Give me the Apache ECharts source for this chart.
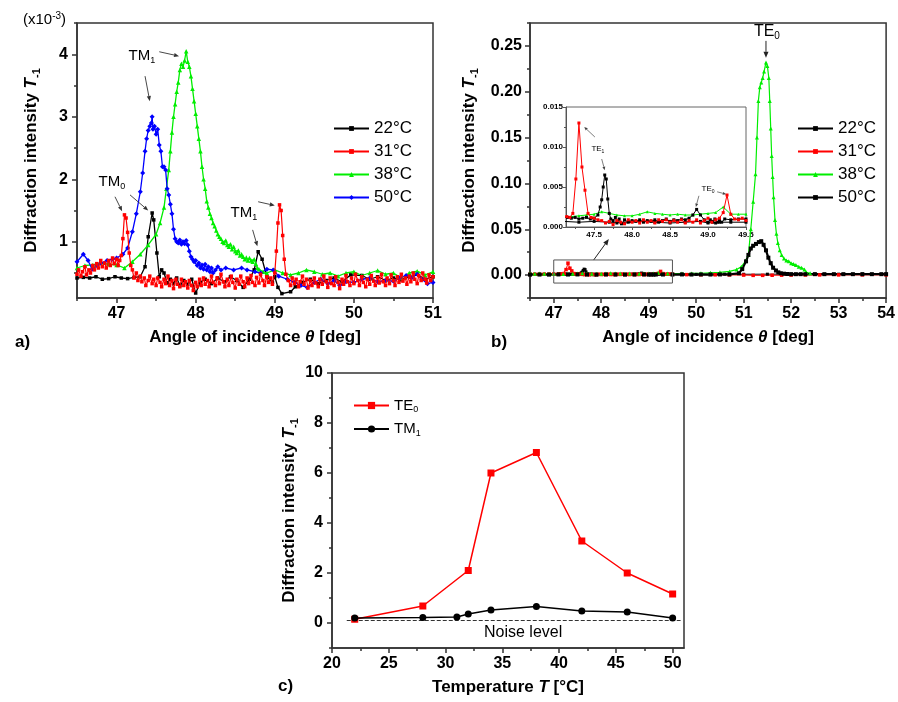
<!DOCTYPE html>
<html><head><meta charset="utf-8">
<script src="https://cdn.jsdelivr.net/npm/echarts@6/dist/echarts.min.js"></script>
<style>html,body{margin:0;padding:0;background:#fff}#c{width:898px;height:702px}</style>
</head><body><div id="c"></div>
<script>
const FF = '"Liberation Sans", Arial, Helvetica, sans-serif';

/* ---------- Panel a data (x: angle [deg], y: intensity x1e-3) ---------- */
const aNames = ['22°C','31°C','38°C','50°C'];
const a22 = [[46.5,0.42],[46.58,0.43],[46.66,0.42],[46.74,0.44],[46.82,0.40],[46.9,0.41],[46.98,0.44],[47.06,0.42],[47.14,0.41],[47.22,0.43],[47.3,0.44],[47.36,0.60],[47.4,1.08],[47.45,1.46],[47.47,1.35],[47.51,0.82],[47.54,0.44],[47.57,0.55],[47.6,0.50],[47.64,0.34],[47.68,0.40],[47.72,0.33],[47.76,0.42],[47.8,0.30],[47.85,0.38],[47.9,0.32],[47.95,0.40],[48.0,0.18],[48.06,0.35],[48.12,0.40],[48.2,0.33],[48.28,0.42],[48.36,0.36],[48.44,0.44],[48.52,0.38],[48.6,0.27],[48.68,0.40],[48.74,0.55],[48.79,0.84],[48.84,0.72],[48.9,0.44],[48.97,0.35],[49.0,0.44],[49.04,0.27],[49.09,0.17],[49.2,0.20],[49.26,0.28],[49.35,0.35],[49.45,0.40],[49.55,0.33],[49.65,0.38],[49.75,0.42],[49.85,0.36],[49.96,0.47],[50.1,0.46],[50.2,0.40],[50.3,0.44],[50.4,0.38],[50.5,0.42],[50.59,0.39],[50.7,0.44],[50.8,0.48],[50.9,0.40],[51.0,0.44]];
const a31 = [[46.5,0.48],[46.52,0.55],[46.55,0.45],[46.57,0.52],[46.6,0.6],[46.62,0.47],[46.65,0.55],[46.67,0.5],[46.7,0.62],[46.72,0.55],[46.75,0.65],[46.77,0.58],[46.8,0.7],[46.82,0.6],[46.85,0.66],[46.87,0.58],[46.9,0.7],[46.92,0.62],[46.95,0.74],[46.97,0.65],[47.0,0.72],[47.02,0.62],[47.04,0.7],[47.06,0.78],[47.08,1.05],[47.1,1.43],[47.12,1.38],[47.14,1.15],[47.16,0.82],[47.18,0.62],[47.2,0.55],[47.22,0.42],[47.25,0.5],[47.27,0.38],[47.3,0.45],[47.32,0.36],[47.35,0.42],[47.37,0.3],[47.4,0.38],[47.42,0.45],[47.45,0.33],[47.47,0.4],[47.5,0.3],[47.52,0.42],[47.55,0.35],[47.57,0.28],[47.6,0.4],[47.62,0.33],[47.65,0.45],[47.67,0.3],[47.7,0.38],[47.72,0.25],[47.75,0.4],[47.77,0.32],[47.8,0.28],[47.82,0.4],[47.85,0.3],[47.87,0.36],[47.9,0.26],[47.92,0.38],[47.95,0.3],[47.97,0.22],[48.0,0.35],[48.02,0.28],[48.05,0.4],[48.07,0.3],[48.1,0.42],[48.12,0.32],[48.15,0.38],[48.17,0.28],[48.2,0.45],[48.22,0.35],[48.25,0.3],[48.27,0.42],[48.3,0.33],[48.32,0.48],[48.35,0.36],[48.37,0.28],[48.4,0.4],[48.42,0.3],[48.45,0.45],[48.47,0.35],[48.5,0.26],[48.52,0.4],[48.55,0.32],[48.57,0.45],[48.6,0.36],[48.62,0.28],[48.65,0.42],[48.67,0.33],[48.7,0.46],[48.72,0.35],[48.75,0.3],[48.77,0.43],[48.8,0.34],[48.82,0.48],[48.85,0.38],[48.87,0.3],[48.9,0.44],[48.92,0.35],[48.95,0.42],[48.97,0.32],[49.0,0.5],[49.02,0.85],[49.04,1.3],[49.06,1.59],[49.08,1.5],[49.1,1.1],[49.12,0.72],[49.14,0.48],[49.17,0.38],[49.2,0.3],[49.22,0.42],[49.25,0.33],[49.27,0.4],[49.3,0.28],[49.32,0.36],[49.35,0.45],[49.37,0.32],[49.4,0.4],[49.42,0.26],[49.45,0.38],[49.47,0.3],[49.5,0.42],[49.52,0.34],[49.55,0.28],[49.57,0.4],[49.6,0.32],[49.62,0.45],[49.65,0.36],[49.67,0.27],[49.7,0.42],[49.72,0.33],[49.75,0.3],[49.77,0.44],[49.8,0.35],[49.82,0.25],[49.85,0.4],[49.87,0.32],[49.9,0.46],[49.92,0.36],[49.95,0.3],[49.97,0.42],[50.0,0.33],[50.02,0.48],[50.05,0.38],[50.07,0.3],[50.1,0.44],[50.12,0.35],[50.15,0.28],[50.17,0.4],[50.2,0.32],[50.22,0.46],[50.25,0.37],[50.27,0.3],[50.3,0.43],[50.32,0.34],[50.35,0.48],[50.37,0.36],[50.4,0.3],[50.42,0.42],[50.45,0.33],[50.47,0.47],[50.5,0.38],[50.52,0.3],[50.55,0.44],[50.57,0.35],[50.6,0.48],[50.62,0.37],[50.65,0.42],[50.67,0.32],[50.7,0.45],[50.72,0.36],[50.75,0.5],[50.77,0.4],[50.8,0.33],[50.82,0.46],[50.85,0.38],[50.87,0.5],[50.9,0.4],[50.92,0.34],[50.95,0.47],[50.97,0.38],[51.0,0.44]];
const a38 = [[46.5,0.58],[46.6,0.62],[46.7,0.63],[46.8,0.66],[46.9,0.64],[47.0,0.63],[47.1,0.58],[47.2,0.68],[47.3,0.8],[47.4,0.95],[47.5,1.12],[47.55,1.3],[47.6,1.55],[47.63,1.85],[47.66,2.15],[47.68,2.45],[47.7,2.75],[47.72,3.0],[47.74,3.2],[47.76,3.4],[47.78,3.55],[47.8,3.75],[47.82,3.85],[47.84,3.8],[47.86,3.9],[47.88,4.05],[47.9,3.88],[47.92,3.8],[47.94,3.65],[47.96,3.45],[47.98,3.25],[48.0,3.05],[48.02,2.85],[48.04,2.65],[48.06,2.45],[48.08,2.2],[48.1,2.0],[48.12,1.85],[48.14,1.65],[48.16,1.55],[48.18,1.45],[48.2,1.38],[48.22,1.3],[48.24,1.25],[48.26,1.18],[48.28,1.12],[48.3,1.08],[48.32,1.05],[48.34,1.0],[48.36,0.98],[48.38,1.02],[48.4,0.95],[48.42,0.92],[48.44,0.96],[48.46,0.88],[48.48,0.92],[48.5,0.85],[48.52,0.82],[48.54,0.86],[48.56,0.78],[48.58,0.8],[48.6,0.76],[48.62,0.72],[48.64,0.75],[48.66,0.7],[48.68,0.74],[48.7,0.7],[48.72,0.68],[48.74,0.72],[48.76,0.65],[48.78,0.58],[48.8,0.56],[48.85,0.52],[48.9,0.5],[49.0,0.55],[49.1,0.5],[49.2,0.47],[49.3,0.5],[49.4,0.55],[49.5,0.52],[49.6,0.48],[49.7,0.5],[49.8,0.45],[49.9,0.5],[50.0,0.52],[50.1,0.46],[50.2,0.5],[50.3,0.54],[50.4,0.48],[50.5,0.5],[50.6,0.42],[50.7,0.5],[50.8,0.53],[50.9,0.47],[51.0,0.52]];
const a50 = [[46.5,0.68],[46.58,0.8],[46.64,0.7],[46.69,0.56],[46.75,0.62],[46.8,0.66],[46.88,0.7],[46.95,0.72],[47.0,0.74],[47.08,0.8],[47.14,0.9],[47.2,1.16],[47.25,1.45],[47.3,1.8],[47.33,2.1],[47.36,2.45],[47.38,2.65],[47.4,2.78],[47.42,2.85],[47.44,2.9],[47.45,3.0],[47.46,2.8],[47.48,2.85],[47.5,2.72],[47.52,2.8],[47.54,2.55],[47.56,2.45],[47.58,2.2],[47.6,2.2],[47.62,2.15],[47.64,1.85],[47.66,1.75],[47.68,1.6],[47.7,1.45],[47.72,1.2],[47.74,1.05],[47.76,1.0],[47.78,0.98],[47.8,1.03],[47.82,0.96],[47.84,1.0],[47.86,0.97],[47.88,1.02],[47.9,0.95],[47.92,0.85],[47.94,0.76],[47.96,0.72],[47.98,0.68],[48.0,0.7],[48.02,0.62],[48.04,0.66],[48.06,0.58],[48.08,0.63],[48.1,0.56],[48.12,0.64],[48.14,0.55],[48.16,0.6],[48.18,0.52],[48.2,0.58],[48.22,0.5],[48.25,0.55],[48.28,0.6],[48.32,0.55],[48.38,0.58],[48.48,0.55],[48.58,0.58],[48.65,0.55],[48.75,0.52],[48.82,0.5],[48.9,0.56],[48.98,0.55],[49.05,0.45],[49.16,0.4],[49.25,0.35],[49.33,0.3],[49.41,0.27],[49.5,0.35],[49.58,0.4],[49.67,0.33],[49.75,0.38],[49.82,0.3],[49.9,0.36],[50.0,0.35],[50.1,0.4],[50.2,0.42],[50.3,0.36],[50.4,0.38],[50.5,0.37],[50.58,0.42],[50.66,0.46],[50.73,0.42],[50.8,0.48],[50.86,0.4],[50.93,0.33],[51.0,0.35]];
const aXLabels = [47,48,49,50,51];
const aXMinor = [46.5,47.5,48.5,49.5,50.5];
const aYLabels = [1,2,3,4];
const aYMinor = [0.5,1.5,2.5,3.5,4.5];

/* ---------- Panel b data ---------- */
const bNames = ['22°C ','31°C ','38°C ','50°C '];
const b22 = [[46.5,0.0008],[46.6,0.001],[46.7,0.0009],[46.8,0.001],[46.9,0.0011],[47.0,0.001],[47.1,0.0012],[47.15,0.0012],[47.2,0.0011],[47.25,0.0012],[47.3,0.001],[47.35,0.0011],[47.4,0.0012],[47.45,0.001],[47.5,0.0011],[47.55,0.0015],[47.58,0.0025],[47.6,0.0034],[47.62,0.005],[47.64,0.0065],[47.66,0.006],[47.68,0.0035],[47.7,0.0017],[47.72,0.001],[47.75,0.0008],[47.78,0.0012],[47.8,0.0005],[47.83,0.001],[47.86,0.0004],[47.9,0.0009],[47.95,0.0006],[48.0,0.0008],[48.05,0.0007],[48.1,0.0009],[48.15,0.0006],[48.2,0.0008],[48.25,0.0007],[48.3,0.0009],[48.35,0.0006],[48.4,0.0008],[48.45,0.001],[48.5,0.0007],[48.55,0.0009],[48.6,0.0008],[48.65,0.001],[48.7,0.0009],[48.75,0.0011],[48.8,0.0015],[48.85,0.0022],[48.9,0.0015],[48.95,0.0009],[49.0,0.0006],[49.03,0.0009],[49.06,0.0006],[49.09,0.001],[49.12,0.0006],[49.15,0.0009],[49.18,0.0006],[49.22,0.001],[49.3,0.0009],[49.4,0.001],[49.5,0.001],[49.7,0.001],[50.0,0.0008],[50.3,0.001],[50.6,0.001],[51.0,0.0009],[51.5,0.001],[52.0,0.001],[52.5,0.001],[53.0,0.001],[53.5,0.001],[54.0,0.001]];
const b31 = [[46.5,0.0008],[46.6,0.0009],[46.7,0.0008],[46.8,0.001],[46.9,0.0009],[47.0,0.0011],[47.1,0.0012],[47.14,0.0013],[47.18,0.0012],[47.22,0.0017],[47.26,0.006],[47.3,0.013],[47.34,0.0075],[47.38,0.0046],[47.42,0.0017],[47.46,0.0012],[47.5,0.0011],[47.55,0.0009],[47.6,0.0008],[47.65,0.0005],[47.7,0.0007],[47.75,0.0003],[47.8,0.0008],[47.85,0.0006],[47.9,0.0004],[47.95,0.0009],[48.0,0.0006],[48.05,0.0008],[48.1,0.0005],[48.15,0.0009],[48.2,0.0006],[48.25,0.0008],[48.3,0.0005],[48.35,0.0009],[48.4,0.0007],[48.45,0.0009],[48.5,0.0006],[48.55,0.0008],[48.6,0.0006],[48.65,0.0009],[48.7,0.0005],[48.75,0.0008],[48.8,0.0006],[48.85,0.0009],[48.9,0.0005],[48.95,0.0008],[49.0,0.0011],[49.05,0.0006],[49.1,0.0009],[49.15,0.0011],[49.2,0.0018],[49.25,0.004],[49.3,0.0016],[49.35,0.001],[49.4,0.0009],[49.45,0.0011],[49.5,0.0008],[49.8,0.0005],[50.1,0.0004],[50.4,0.0003],[50.7,0.0002],[51.0,0.0],[51.2,-0.0003],[51.4,-0.0003],[51.6,-0.0002],[51.8,-0.0001],[52.0,0.0],[52.3,0.0001],[52.6,0.0002],[53.0,0.0002],[53.5,0.0002],[54.0,0.0002]];
const b38 = [[46.5,0.0016],[46.6,0.0014],[46.7,0.0016],[46.8,0.0015],[46.9,0.0013],[47.0,0.0015],[47.1,0.0012],[47.2,0.0013],[47.3,0.0014],[47.4,0.0015],[47.5,0.0016],[47.6,0.0019],[47.7,0.0017],[47.8,0.0015],[47.9,0.0014],[48.0,0.0014],[48.1,0.0016],[48.2,0.0019],[48.3,0.0017],[48.4,0.0016],[48.5,0.0015],[48.6,0.0016],[48.7,0.0015],[48.8,0.0015],[48.9,0.0016],[49.0,0.0017],[49.1,0.0018],[49.2,0.0025],[49.3,0.0016],[49.4,0.0016],[49.5,0.0016],[49.7,0.0017],[49.9,0.0018],[50.1,0.002],[50.3,0.0025],[50.5,0.003],[50.7,0.004],[50.85,0.006],[50.95,0.009],[51.05,0.016],[51.1,0.022],[51.15,0.05],[51.2,0.08],[51.25,0.11],[51.28,0.15],[51.31,0.19],[51.34,0.205],[51.37,0.21],[51.4,0.215],[51.43,0.222],[51.47,0.232],[51.5,0.228],[51.53,0.215],[51.55,0.19],[51.57,0.16],[51.59,0.13],[51.61,0.107],[51.63,0.085],[51.66,0.06],[51.69,0.045],[51.72,0.035],[51.76,0.027],[51.8,0.022],[51.85,0.018],[51.9,0.016],[51.95,0.015],[52.0,0.013],[52.05,0.012],[52.1,0.011],[52.16,0.009],[52.22,0.008],[52.28,0.006],[52.32,0.003],[52.4,0.002]];
const b50 = [[46.5,0.0005],[46.7,0.0006],[46.9,0.0005],[47.1,0.0007],[47.3,0.0006],[47.5,0.0007],[47.7,0.0006],[47.9,0.0005],[48.1,0.0007],[48.3,0.0006],[48.5,0.0005],[48.7,0.0006],[48.9,0.0007],[49.0,0.0005],[49.05,0.0007],[49.1,0.0005],[49.15,0.0006],[49.3,0.0006],[49.5,0.0006],[49.7,0.0007],[49.9,0.0006],[50.1,0.0007],[50.3,0.0006],[50.5,0.0007],[50.7,0.0008],[50.9,0.002],[50.97,0.0065],[51.05,0.015],[51.1,0.022],[51.15,0.029],[51.2,0.032],[51.26,0.034],[51.32,0.036],[51.37,0.037],[51.42,0.033],[51.47,0.027],[51.52,0.019],[51.57,0.013],[51.62,0.008],[51.68,0.005],[51.73,0.003],[51.78,0.002],[51.85,0.0015],[51.92,0.0012],[52.0,0.001],[52.1,0.001],[52.2,0.001],[52.3,0.001],[52.5,0.001],[52.7,0.001],[52.9,0.001],[53.1,0.001],[53.3,0.001],[53.5,0.001],[53.7,0.001],[53.9,0.001],[54.0,0.001]];
const bXLabels = [47,48,49,50,51,52,53,54];
const bXMinor = [46.5,47.5,48.5,49.5,50.5,51.5,52.5,53.5];
const bYLabels = [0,0.05,0.10,0.15,0.20,0.25];
const bYMinor = [-0.025,0.025,0.075,0.125,0.175,0.225,0.275];
const inXLabels = [47.5,48.0,48.5,49.0,49.5];
const inXMinor = [47.25,47.75,48.25,48.75,49.25];
const inYLabels = [0,0.005,0.010,0.015];
const inYMinor = [0.0025,0.0075,0.0125];

/* ---------- Panel c data ---------- */
const cTE0Temp = [22,28,32,34,38,42,46,50];
const cTE0 = [0.15,0.68,2.1,6.0,6.82,3.28,2.0,1.16];
const cTM1Temp = [22,28,31,32,34,38,42,46,50];
const cTM1 = [0.2,0.22,0.24,0.36,0.52,0.66,0.48,0.44,0.2];
const noiseLevel = 0.12;
const noiseSpan = [21.3,50.7];
const cXLabels = [20,25,30,35,40,45,50];
const cXMinor = [22.5,27.5,32.5,37.5,42.5,47.5];
const cYLabels = [0,2,4,6,8,10];
const cYMinor = [-1,1,3,5,7,9];

/* ---------- Annotations (data coordinates) ---------- */
const annoA = [{t:'TM',s:'1',at:[47.32,3.97]},{t:'TM',s:'0',at:[46.94,1.96]},{t:'TM',s:'1',at:[48.61,1.46]}];
const arrowsA = [[[47.54,4.04],[47.79,3.97]],[[47.36,3.65],[47.42,3.25]],[[46.98,1.72],[47.07,1.49]],[[47.17,1.75],[47.40,1.5]],[[48.79,1.64],[49.0,1.58]],[[48.72,1.19],[48.78,0.93]]];
const annoB = [{t:'TE',s:'0',at:[51.49,0.2653]}];
const arrowsB = [[[51.47,0.2555],[51.47,0.237]],[[47.84,0.0164],[48.16,0.0393]]];
const zoomBox = [[47.0,0.0165],[49.5,-0.0087]];
const annoIn = [{t:'TE',s:'1',at:[47.55,0.00975]},{t:'TE',s:'0',at:[49.0,0.00475]}];
const arrowsIn = [[[47.51,0.01125],[47.37,0.0125]],[[47.6,0.0085],[47.64,0.0071]],[[48.88,0.0039],[48.84,0.0025]],[[49.12,0.0044],[49.24,0.0041]]];
const noiseText = [36.83,-0.4];

/* ---------- helpers ---------- */
function axes(dim, o) {
  const pos = dim === 'x' ? 'bottom' : 'left';
  const col = o.c || '#333', w = o.w || 1.5;
  const major = {
    type:'value', gridIndex:o.g, min:o.min, max:o.max, position:pos,
    name:o.name || '', nameLocation:'middle', nameGap:o.nameGap || 0,
    nameTextStyle:{fontFamily:FF, fontWeight:'bold', fontSize:17, color:'#000', lineHeight:22,
      rich:{i:{fontFamily:FF, fontWeight:'bold', fontStyle:'italic', fontSize:17, color:'#000', lineHeight:22},
            s:{fontFamily:FF, fontWeight:'bold', fontSize:11, color:'#000', verticalAlign:'bottom'}}},
    axisLine:{show:true, onZero:false, lineStyle:{color:col, width:w}},
    axisTick:{show:true, inside:false, length:o.tl || 5, customValues:o.labels, lineStyle:{color:col, width:w}},
    axisLabel:{show:true, customValues:o.labels, margin:o.m, formatter:o.fmt, color:'#000', fontFamily:FF, fontWeight:'bold', fontSize:o.fs || 16},
    splitLine:{show:false}, minorTick:{show:false}, silent:true
  };
  const minor = {
    type:'value', gridIndex:o.g, min:o.min, max:o.max, position:pos,
    axisLine:{show:false, onZero:false},
    axisTick:{show:true, inside:false, length:o.ml || 3, customValues:o.minor, lineStyle:{color:col, width:w}},
    axisLabel:{show:false}, splitLine:{show:false}, silent:true
  };
  return [major, minor];
}
function ln(name, data, ai, color, sym, size, w, z) {
  return {type:'line', name, data, xAxisIndex:ai, yAxisIndex:ai, symbol:sym, symbolSize:size,
    lineStyle:{color, width:w}, itemStyle:{color}, emphasis:{disabled:true}, animation:false, clip:true, z:z || 3};
}
const xy = (xs, ys) => xs.map((x, i) => [x, ys[i]]);

const xA = axes('x',{g:0,min:46.5,max:51,labels:aXLabels,minor:aXMinor,m:8,fmt:v=>String(v),name:'Angle of incidence {i|θ} [deg]',nameGap:28});
const yA = axes('y',{g:0,min:0.1,max:4.5,labels:aYLabels,minor:aYMinor,m:9,fmt:v=>String(v),name:'Diffraction intensity {i|T}{s|-1}',nameGap:35});
const xB = axes('x',{g:1,min:46.5,max:54,labels:bXLabels,minor:bXMinor,m:8,fmt:v=>String(v),name:'Angle of incidence {i|θ} [deg]',nameGap:28});
const yB = axes('y',{g:1,min:-0.025,max:0.275,labels:bYLabels,minor:bYMinor,m:8,fmt:v=>v.toFixed(2),name:'Diffraction intensity {i|T}{s|-1}',nameGap:50});
const xI = axes('x',{g:2,min:47.13,max:49.5,labels:inXLabels,minor:inXMinor,m:4,fs:8,tl:3,ml:2,c:'#555',w:1,fmt:v=>v.toFixed(1)});
const yI = axes('y',{g:2,min:0,max:0.015,labels:inYLabels,minor:inYMinor,m:3,fs:8,tl:3,ml:2,c:'#555',w:1,fmt:v=>v.toFixed(3)});
const xC = axes('x',{g:3,min:20,max:51,labels:cXLabels,minor:cXMinor,m:8,fmt:v=>String(v),name:'Temperature {i|T} [°C]',nameGap:28});
const yC = axes('y',{g:3,min:-1,max:10,labels:cYLabels,minor:cYMinor,m:9,fmt:v=>String(v),name:'Diffraction intensity {i|T}{s|-1}',nameGap:32});

const legendBase = {orient:'vertical', itemWidth:35, padding:0, selectedMode:false,
  textStyle:{fontSize:17, fontFamily:FF, color:'#000'}};

const option = {
  animation:false,
  backgroundColor:'#fff',
  grid:[
    {left:77, top:23, width:356, height:275, show:true, borderColor:'#333', borderWidth:1.5},
    {left:530, top:23, width:358, height:275, show:true, borderColor:'#333', borderWidth:1.5},
    {left:566, top:107, width:180, height:120, show:true, backgroundColor:'#fff', borderColor:'#666', borderWidth:1},
    {left:332, top:373, width:352, height:275, show:true, borderColor:'#333', borderWidth:1.5}
  ],
  xAxis:[...xA, ...xB, ...xI, ...xC],
  yAxis:[...yA, ...yB, ...yI, ...yC],
  legend:[
    Object.assign({}, legendBase, {data:aNames, left:333, top:120, itemHeight:6, itemGap:6, formatter:n=>n.trim()}),
    Object.assign({}, legendBase, {data:bNames, left:797, top:120, itemHeight:6, itemGap:6, formatter:n=>n.trim()}),
    Object.assign({}, legendBase, {data:['TE0','TM1'], left:353, top:398, itemHeight:9, itemGap:7,
      formatter:n => n === 'TE0' ? '{m|TE}{s|0}' : '{m|TM}{s|1}',
      textStyle:{fontSize:15, fontFamily:FF, color:'#000',
        rich:{m:{fontSize:15, fontFamily:FF, color:'#000', lineHeight:18}, s:{fontSize:9, fontFamily:FF, color:'#000', verticalAlign:'bottom'}}}})
  ],
  series:[
    ln(aNames[0], a22, 0, '#000000', 'rect', 3.5, 1.3),
    ln(aNames[2], a38, 0, '#00ee00', 'triangle', 4.5, 1.3),
    ln(aNames[3], a50, 0, '#0000ff', 'diamond', 5, 1.3),
    ln(aNames[1], a31, 0, '#ff0000', 'rect', 3.5, 1.2, 4),
    ln(bNames[0], b22, 2, '#000000', 'rect', 3, 1),
    ln(bNames[1], b31, 2, '#ff0000', 'rect', 3.5, 1),
    ln(bNames[2], b38, 2, '#00ee00', 'triangle', 4, 1.2),
    ln(bNames[3], b50, 2, '#000000', 'rect', 4, 2.2),
    ln('in22', b22, 4, '#000000', 'rect', 3, 1, 6),
    ln('in31', b31, 4, '#ff0000', 'rect', 3, 1, 6),
    ln('in38', b38, 4, '#00ee00', 'triangle', 3, 1, 5),
    ln('in50', b50, 4, '#000000', 'rect', 3, 1, 5),
    ln('TE0', xy(cTE0Temp, cTE0), 6, '#ff0000', 'rect', 7, 1.5, 4),
    Object.assign(ln('TM1', xy(cTM1Temp, cTM1), 6, '#000000', 'circle', 7, 1.5, 5), {
      markLine:{silent:true, symbol:'none', animation:false, label:{show:false},
        lineStyle:{type:'dashed', color:'#333', width:1},
        data:[[{coord:[noiseSpan[0], noiseLevel]},{coord:[noiseSpan[1], noiseLevel]}]]}
    })
  ]
};

const chart = echarts.init(document.getElementById('c'), null, {renderer:'canvas', width:898, height:702});
chart.setOption(option);

const P = (ai, p) => chart.convertToPixel({xAxisIndex:ai, yAxisIndex:ai}, p);
function arrow(p1, p2, color, w, hl) {
  const dx = p2[0]-p1[0], dy = p2[1]-p1[1], L = Math.hypot(dx, dy), ux = dx/L, uy = dy/L;
  const hw = hl*0.42, bx = p2[0]-ux*hl, by = p2[1]-uy*hl;
  return [
    {type:'line', silent:true, z:100, shape:{x1:p1[0], y1:p1[1], x2:bx, y2:by}, style:{stroke:color, lineWidth:w}},
    {type:'polygon', silent:true, z:100, shape:{points:[[p2[0],p2[1]],[bx-uy*hw, by+ux*hw],[bx+uy*hw, by-ux*hw]]}, style:{fill:color}}
  ];
}
function subText(p, t, s, fs, sfs) {
  return {type:'text', silent:true, z:100, x:p[0], y:p[1],
    style:{text:t + '{s|' + s + '}', fill:'#000', fontSize:fs, fontFamily:FF, align:'center', verticalAlign:'middle', lineHeight:fs+3,
      rich:{s:{fontSize:sfs, fontFamily:FF, fill:'#000', verticalAlign:'bottom'}}}};
}
const g = [];
annoA.forEach(a => g.push(subText(P(0, a.at), a.t, a.s, 15, 9)));
arrowsA.forEach(a => g.push(...arrow(P(0, a[0]), P(0, a[1]), '#333', 0.9, 5)));
annoB.forEach(a => g.push(subText(P(2, a.at), a.t, a.s, 16, 10)));
arrowsB.forEach(a => g.push(...arrow(P(2, a[0]), P(2, a[1]), '#222', 1, 6)));
const zb0 = P(2, zoomBox[0]), zb1 = P(2, zoomBox[1]);
g.push({type:'rect', silent:true, z:100, shape:{x:zb0[0], y:zb0[1], width:zb1[0]-zb0[0], height:zb1[1]-zb0[1]}, style:{fill:'none', stroke:'#555', lineWidth:1}});
annoIn.forEach(a => g.push(subText(P(4, a.at), a.t, a.s, 8, 5)));
arrowsIn.forEach(a => g.push(...arrow(P(4, a[0]), P(4, a[1]), '#444', 0.7, 3.5)));
const nt = P(6, noiseText);
g.push({type:'text', silent:true, z:100, x:nt[0], y:nt[1], style:{text:'Noise level', fill:'#000', fontSize:16, fontFamily:FF, align:'center', verticalAlign:'middle'}});
g.push({type:'text', silent:true, z:100, x:23, y:20, style:{text:'(x10{p|-3})', fill:'#000', fontSize:15, fontFamily:FF, align:'left', verticalAlign:'middle', lineHeight:18,
  rich:{p:{fontSize:10, fontFamily:FF, fill:'#000', verticalAlign:'top'}}}});
g.push({type:'text', silent:true, z:100, x:15, y:342, style:{text:'a)', fill:'#000', fontSize:17, fontWeight:'bold', fontFamily:FF, align:'left', verticalAlign:'middle'}});
g.push({type:'text', silent:true, z:100, x:491, y:342, style:{text:'b)', fill:'#000', fontSize:17, fontWeight:'bold', fontFamily:FF, align:'left', verticalAlign:'middle'}});
g.push({type:'text', silent:true, z:100, x:278, y:686, style:{text:'c)', fill:'#000', fontSize:17, fontWeight:'bold', fontFamily:FF, align:'left', verticalAlign:'middle'}});
chart.setOption({graphic:g});
</script></body></html>
